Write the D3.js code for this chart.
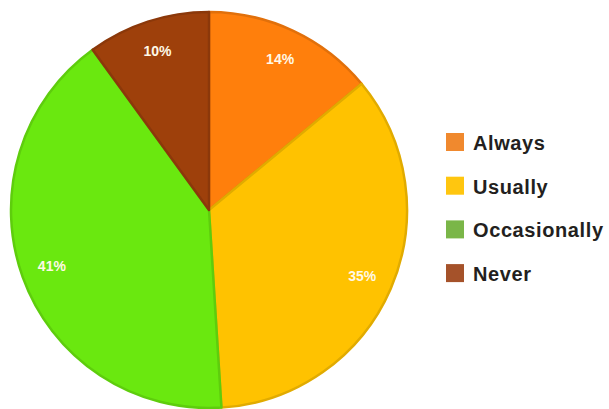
<!DOCTYPE html>
<html>
<head>
<meta charset="utf-8">
<script src="https://cdn.jsdelivr.net/npm/d3@7"></script>
<style>
  body { margin: 0; background: #fff; }
</style>
</head>
<body>
<div id="chart"></div>
<script>
// chart data
const categories = ["Always", "Usually", "Occasionally", "Never"];
const values = [14, 35, 41, 10];
const sliceColors = ["#ff7f0c", "#ffc200", "#6ae80f", "#9e400b"];
const legendColors = ["#f0892e", "#ffc60f", "#7ab648", "#a5522a"];

const width = 609, height = 409;
const cx = 209, cy = 210, radius = 198;

const svg = d3.select("#chart").append("svg")
    .attr("width", width)
    .attr("height", height);

const data = categories.map((c, i) => ({ category: c, value: values[i] }));

const pie = d3.pie()
    .value(d => d.value)
    .sort(null);

const arc = d3.arc()
    .innerRadius(0)
    .outerRadius(radius);

const labelArc = d3.arc()
    .innerRadius(167)
    .outerRadius(167);

const g = svg.append("g")
    .attr("transform", `translate(${cx},${cy})`);

const arcs = pie(data);

g.selectAll("path.slice")
    .data(arcs)
    .enter()
    .append("path")
    .attr("class", "slice")
    .attr("d", arc)
    .attr("fill", (d, i) => sliceColors[i])
    .attr("stroke", (d, i) => d3.color(sliceColors[i]).darker(0.35))
    .attr("stroke-width", 2.5)
    .attr("stroke-linejoin", "round");

// percent labels
g.selectAll("text.pct")
    .data(arcs)
    .enter()
    .append("text")
    .attr("class", "pct")
    .attr("transform", d => `translate(${labelArc.centroid(d)})`)
    .attr("dy", "0.35em")
    .attr("text-anchor", "middle")
    .style("font-family", "'Liberation Sans', Arial, sans-serif")
    .style("font-size", "14px")
    .style("font-weight", "bold")
    .style("fill", "#fff8e6")
    .text(d => d.data.value + "%");

// legend
const legend = svg.append("g")
    .attr("transform", "translate(446,133)");

const item = legend.selectAll("g.item")
    .data(data)
    .enter()
    .append("g")
    .attr("class", "item")
    .attr("transform", (d, i) => `translate(0,${i * 43.7})`);

item.append("rect")
    .attr("width", 18)
    .attr("height", 18)
    .attr("fill", (d, i) => legendColors[i]);

item.append("text")
    .attr("x", 27)
    .attr("y", 17)
    .style("font-family", "'Liberation Sans', Arial, sans-serif")
    .style("font-size", "20px")
    .style("font-weight", "bold")
    .style("letter-spacing", "0.6px")
    .style("fill", "#231f20")
    .text(d => d.category);
</script>
</body>
</html>
